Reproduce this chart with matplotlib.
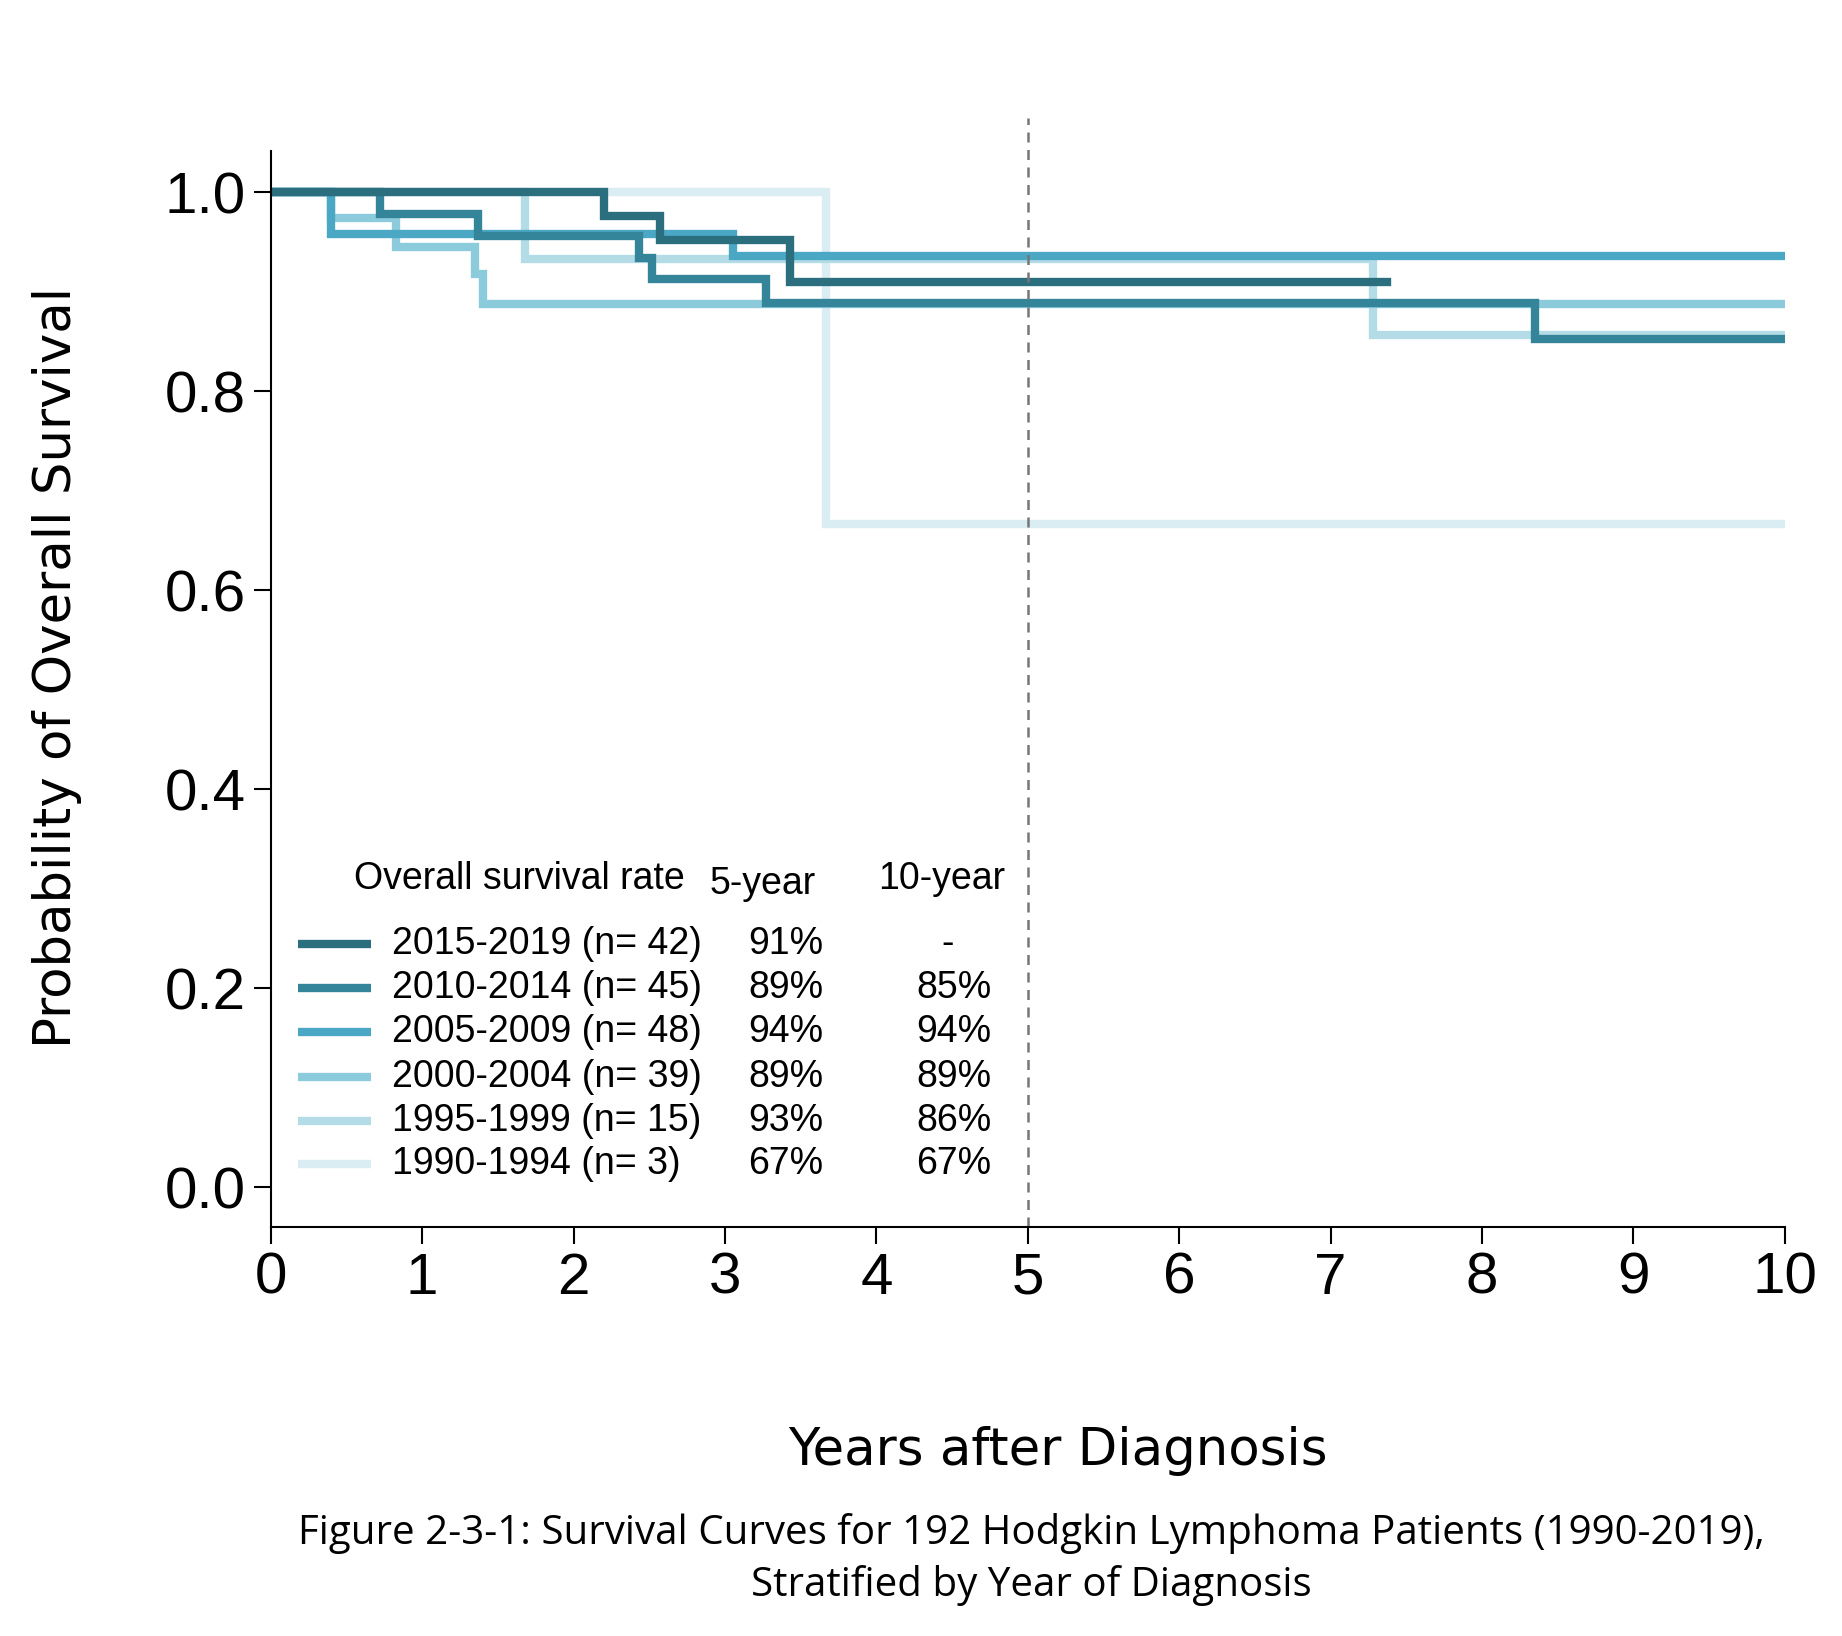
import matplotlib
matplotlib.use("Agg")
import matplotlib.pyplot as plt

# step curves: (times of drops, survival after each drop), end time
groups = ["2015-2019 (n= 42)", "2010-2014 (n= 45)", "2005-2009 (n= 48)",
          "2000-2004 (n= 39)", "1995-1999 (n= 15)", "1990-1994 (n= 3)"]
drop_times = [
    [2.2, 2.57, 3.43],
    [0.72, 1.37, 2.43, 2.52, 3.27, 8.35],
    [0.4, 3.05],
    [0.4, 0.83, 1.35, 1.4],
    [1.68, 7.28],
    [3.67],
]
surv_after = [
    [0.976, 0.952, 0.910],
    [0.978, 0.956, 0.934, 0.913, 0.889, 0.853],
    [0.958, 0.936],
    [0.974, 0.945, 0.918, 0.888],
    [0.933, 0.857],
    [0.667],
]
end_times = [7.37, 10, 10, 10, 10, 10]
five_year = ["91%", "89%", "94%", "89%", "93%", "67%"]
ten_year = ["-", "85%", "94%", "89%", "86%", "67%"]
colors = ["#2b6e7d", "#34849a", "#4aa8c4", "#8ccbdc", "#b3dce6", "#d9edf3"]

narrow = ["Liberation Sans Narrow", "Liberation Sans", "DejaVu Sans"]

fig = plt.figure(figsize=(18.42, 16.36), dpi=100)
ax = fig.add_axes([0.147, 0.25, 0.822, 0.658])

# draw lightest first so darker curves sit on top
for i in reversed(range(len(groups))):
    xs = [0] + drop_times[i] + [end_times[i]]
    ys = [1.0] + surv_after[i] + [surv_after[i][-1]]
    ax.step(xs, ys, where="post", color=colors[i], lw=6, solid_joinstyle="miter")

ax.axvline(5, ymin=0, ymax=1.03, color="#777777", ls=(0, (4, 3)), lw=1.8, clip_on=False)

ax.set_xlim(0, 10)
ax.set_ylim(-0.04, 1.042)
ax.set_xticks(range(11))
ax.set_yticks([0, 0.2, 0.4, 0.6, 0.8, 1.0])
ax.set_yticklabels(["0.0", "0.2", "0.4", "0.6", "0.8", "1.0"])
for s in ["top", "right"]:
    ax.spines[s].set_visible(False)
ax.spines["left"].set_linewidth(1.5)
ax.spines["bottom"].set_linewidth(1.5)
ax.tick_params(length=12, width=1.5, labelsize=42, pad=6)
for lab in ax.get_xticklabels() + ax.get_yticklabels():
    lab.set_family(narrow)

ax.set_ylabel("Probability of Overall Survival", fontsize=37, family="DejaVu Sans")
ax.yaxis.set_label_coords(-0.125, 0.52)
ax.set_xlabel("Years after Diagnosis", fontsize=37, family="DejaVu Sans")
ax.xaxis.set_label_coords(0.52, -0.185)

# legend table
fs = 27
ax.text(0.55, 0.31, "Overall survival rate", fontsize=fs, family=narrow, va="center")
ax.text(3.25, 0.305, "5-year", fontsize=fs, family=narrow, va="center", ha="center")
ax.text(4.43, 0.31, "10-year", fontsize=fs, family=narrow, va="center", ha="center")
row_y = [0.244, 0.2, 0.156, 0.111, 0.067, 0.023]
for i, g in enumerate(groups):
    y = row_y[i]
    ax.plot([0.18, 0.66], [y, y], color=colors[i], lw=6, solid_capstyle="butt")
    ax.text(0.80, y, g, fontsize=fs, family=narrow, va="center")
    ax.text(3.65, y, five_year[i], fontsize=fs, family=narrow, va="center", ha="right")
    if ten_year[i] == "-":
        ax.text(4.47, y, "-", fontsize=fs, family=narrow, va="center", ha="center")
    else:
        ax.text(4.76, y, ten_year[i], fontsize=fs, family=narrow, va="center", ha="right")

fig.text(0.56, 0.047, "Figure 2-3-1: Survival Curves for 192 Hodgkin Lymphoma Patients (1990-2019),\nStratified by Year of Diagnosis",
         fontsize=29, family=["Open Sans", "DejaVu Sans"], ha="center", va="center", linespacing=1.35)

fig.savefig("out.png", dpi=100)
